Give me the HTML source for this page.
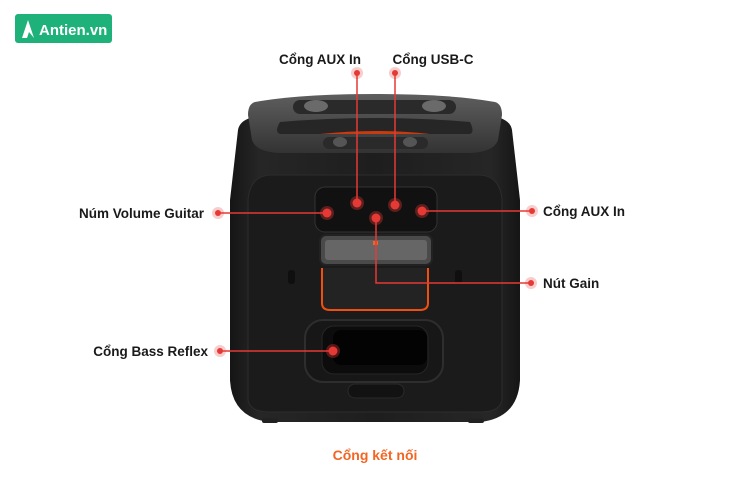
<!DOCTYPE html>
<html><head><meta charset="utf-8"><style>
html,body{margin:0;padding:0;background:#fff;}
body{width:750px;height:500px;overflow:hidden;position:relative;font-family:"Liberation Sans",sans-serif;}
svg{position:absolute;left:0;top:0;}
</style></head><body>
<svg width="750" height="500" viewBox="0 0 750 500" xmlns="http://www.w3.org/2000/svg">
<defs>
<linearGradient id="cap" x1="0" y1="0" x2="0" y2="1"><stop offset="0" stop-color="#5e5e5e"/><stop offset="1" stop-color="#333"/></linearGradient>
<linearGradient id="body" x1="0" y1="0" x2="1" y2="0"><stop offset="0" stop-color="#151515"/><stop offset="0.1" stop-color="#262626"/><stop offset="0.5" stop-color="#1e1e1e"/><stop offset="0.9" stop-color="#262626"/><stop offset="1" stop-color="#151515"/></linearGradient>
</defs>
<rect x="15" y="14" width="97" height="29" rx="3" fill="#1eb27a"/>
<path d="M22 38 L28 20 L34 38 L29 32 L27 38 Z" fill="#fff"/>
<text x="39" y="35" font-size="15" font-weight="bold" fill="#fff">Antien.vn</text>
<path d="M238 130 Q240 118 260 116 L490 116 Q510 118 512 130 L520 200 L520 380 Q518 418 480 422 L270 422 Q232 418 230 380 L230 200 Z" fill="url(#body)"/>
<rect x="262" y="418" width="16" height="5" rx="2" fill="#222"/>
<rect x="468" y="418" width="16" height="5" rx="2" fill="#222"/>
<path d="M272 175 L478 175 Q500 175 502 200 L502 400 Q500 412 480 412 L270 412 Q250 412 248 400 L248 200 Q250 175 272 175Z" fill="#1b1b1b" stroke="#2c2c2c"/>
<path d="M255 102 Q300 94 375 94 Q450 94 495 102 Q502 104 502 115 L498 140 Q494 152 470 153 L280 153 Q256 152 252 140 L248 115 Q248 104 255 102Z" fill="url(#cap)"/>
<rect x="293" y="100" width="163" height="14" rx="7" fill="#2a2a2a"/>
<ellipse cx="316" cy="106" rx="12" ry="6" fill="#6a6a6a"/>
<ellipse cx="434" cy="106" rx="12" ry="6" fill="#6a6a6a"/>
<path d="M280 122 Q375 114 470 122 Q475 132 470 134 L280 134 Q274 132 280 122Z" fill="#262626"/>
<path d="M320 134 Q375 128 430 134Z" fill="#c83a10"/>
<rect x="323" y="137" width="105" height="12" rx="6" fill="#2a2a2a"/>
<ellipse cx="340" cy="142" rx="7" ry="5" fill="#555"/>
<ellipse cx="410" cy="142" rx="7" ry="5" fill="#555"/>
<rect x="288" y="270" width="7" height="14" rx="3" fill="#0f0f0f"/>
<rect x="455" y="270" width="7" height="14" rx="3" fill="#0f0f0f"/>
<rect x="315" y="187" width="122" height="45" rx="10" fill="#111" stroke="#333"/>
<rect x="320" y="235" width="112" height="30" rx="6" fill="#4a4a4a" stroke="#222" stroke-width="2"/>
<rect x="325" y="240" width="102" height="20" rx="3" fill="#666"/>
<rect x="373" y="241" width="5" height="4" fill="#f26522"/>
<path d="M322 268 L322 303 Q322 310 330 310 L420 310 Q428 310 428 303 L428 268" fill="#232323" stroke="#f04f10" stroke-width="2"/>
<rect x="305" y="320" width="138" height="62" rx="18" fill="#171717" stroke="#2e2e2e" stroke-width="2"/>
<rect x="322" y="326" width="106" height="48" rx="12" fill="#0c0c0c" stroke="#262626"/>
<rect x="333" y="330" width="94" height="35" rx="8" fill="#030303"/>
<rect x="348" y="384" width="56" height="14" rx="7" fill="#121212" stroke="#2a2a2a"/>
<g stroke="#e53935" stroke-width="1.5" fill="none">
<line x1="357" y1="73" x2="357" y2="203"/>
<line x1="395" y1="73" x2="395" y2="205"/>
<line x1="218" y1="213" x2="327" y2="213"/>
<line x1="532" y1="211" x2="422" y2="211"/>
<polyline points="531,283 376,283 376,218"/>
<line x1="220" y1="351" x2="333" y2="351"/>
</g>
<g fill="#e53935">
<circle cx="357" cy="73" r="6" opacity="0.25"/><circle cx="357" cy="73" r="3"/>
<circle cx="395" cy="73" r="6" opacity="0.25"/><circle cx="395" cy="73" r="3"/>
<circle cx="218" cy="213" r="6" opacity="0.25"/><circle cx="218" cy="213" r="3"/>
<circle cx="532" cy="211" r="6" opacity="0.25"/><circle cx="532" cy="211" r="3"/>
<circle cx="531" cy="283" r="6" opacity="0.25"/><circle cx="531" cy="283" r="3"/>
<circle cx="220" cy="351" r="6" opacity="0.25"/><circle cx="220" cy="351" r="3"/>
<circle cx="357" cy="203" r="7" opacity="0.35"/><circle cx="357" cy="203" r="4.5"/>
<circle cx="395" cy="205" r="7" opacity="0.35"/><circle cx="395" cy="205" r="4.5"/>
<circle cx="327" cy="213" r="7" opacity="0.35"/><circle cx="327" cy="213" r="4.5"/>
<circle cx="422" cy="211" r="7" opacity="0.35"/><circle cx="422" cy="211" r="4.5"/>
<circle cx="376" cy="218" r="7" opacity="0.35"/><circle cx="376" cy="218" r="4.5"/>
<circle cx="333" cy="351" r="7" opacity="0.35"/><circle cx="333" cy="351" r="4.5"/>
</g>
<g font-size="13.5" font-weight="bold" fill="#1a1a1a">
<text x="320" y="64" text-anchor="middle">Cổng AUX In</text>
<text x="433" y="64" text-anchor="middle">Cổng USB-C</text>
<text x="204" y="218" text-anchor="end">Núm Volume Guitar</text>
<text x="543" y="216">Cổng AUX In</text>
<text x="543" y="288">Nút Gain</text>
<text x="208" y="356" text-anchor="end">Cổng Bass Reflex</text>
</g>
<text x="375" y="460" text-anchor="middle" font-size="14" font-weight="bold" fill="#f26522">Cổng kết nối</text>
</svg>
</body></html>
